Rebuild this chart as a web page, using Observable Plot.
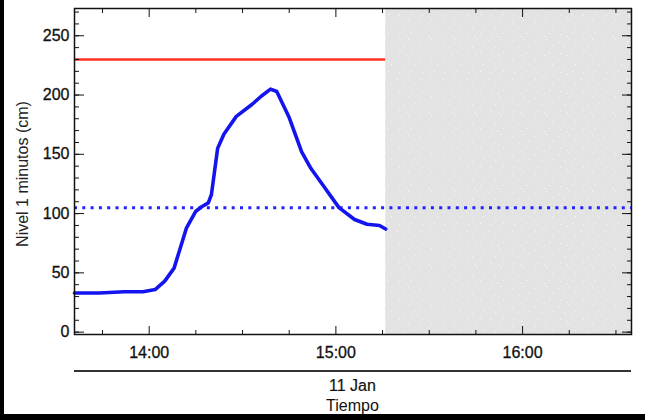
<!DOCTYPE html>
<html><head><meta charset="utf-8">
<script src="https://cdn.jsdelivr.net/npm/d3@7"></script>
<script src="https://cdn.jsdelivr.net/npm/@observablehq/plot@0.6"></script>
<style>
body{margin:0;background:#000;}
#chart{position:absolute;left:4px;top:0;width:641px;height:414px;background:#fff;}
</style></head><body><div id="chart"></div>
<script>
// data
const times = ["13:36","13:44","13:52","13:58","14:02","14:05","14:08","14:10","14:12","14:15","14:17","14:19","14:20","14:22","14:24","14:28","14:33","14:36","14:39","14:41","14:45","14:49","14:52","14:55","15:01","15:06","15:10","15:14","15:16"];
const nivel = [33,33,34,34,36,43,54,71,88,102,106,109,116,155,167,182,192,199,205,203,181,152,138,127,105,95,91,90,87];
const umbralRojo = 230;
const umbralAzul = 105;
const inicioGris = "15:16";
const dominioX = ["13:36","16:35"];
const dominioY = [-2, 273];
const yMajor = [0,50,100,150,200,250];
const yMinor = d3.range(0, 271, 10);
const xMajor = ["14:00","15:00","16:00"];
const xMinor = ["13:45","14:15","14:30","14:45","15:15","15:30","15:45","16:15","16:30"];
const fecha = "11 Jan";
const tituloX = "Tiempo";
const tituloY = "Nivel 1 minutos (cm)";

const parse = s => { const [h,m] = s.split(":").map(Number); return new Date(Date.UTC(2021,0,11,h,m)); };
const data = times.map((t,i) => ({t: parse(t), v: nivel[i]}));
const xd = dominioX.map(parse);
const gris = parse(inicioGris);
const W = 641, H = 414, ML = 70, MR = 14, MT = 8, MB = 80;
const F = "Liberation Sans, Arial, Helvetica, sans-serif";
const blank = () => "";

const chart = Plot.plot({
  width: W, height: H,
  marginLeft: ML, marginRight: MR, marginTop: MT, marginBottom: MB,
  style: {fontFamily: F, fontSize: "16px", color: "#111", background: "transparent"},
  x: {type: "utc", domain: xd, label: null},
  y: {domain: dominioY, label: null},
  marks: [
    Plot.rect([{x1: gris, x2: xd[1]}], {x1: "x1", x2: "x2", y1: dominioY[0], y2: dominioY[1], fill: "#e3e3e3"}),
    Plot.ruleY([umbralRojo], {x1: xd[0], x2: gris, stroke: "#ff3322", strokeWidth: 2.5}),
    Plot.ruleY([umbralAzul], {x1: xd[0], x2: xd[1], stroke: "#2222ff", strokeWidth: 3, strokeDasharray: "3,5.3"}),
    Plot.line(data, {x: "t", y: "v", stroke: "#1414ee", strokeWidth: 3.6, strokeLinejoin: "round"}),
    Plot.axisY(yMinor, {anchor: "left", tickSize: -5, tickFormat: blank, label: null}),
    Plot.axisY(yMinor, {anchor: "right", tickSize: -5, tickFormat: blank, label: null}),
    Plot.axisY(yMajor, {anchor: "left", tickSize: -10, tickPadding: 15, tickFormat: d => String(d), label: null, fontSize: 16}),
    Plot.axisY(yMajor, {anchor: "right", tickSize: -10, tickFormat: blank, label: null}),
    Plot.axisX(xMinor.map(parse), {anchor: "bottom", tickSize: -4, tickFormat: blank, label: null}),
    Plot.axisX(xMinor.map(parse), {anchor: "top", tickSize: -4, tickFormat: blank, label: null}),
    Plot.axisX(xMajor.map(parse), {anchor: "bottom", tickSize: -8, tickPadding: 20, tickFormat: d3.utcFormat("%H:%M"), label: null, fontSize: 16}),
    Plot.axisX(xMajor.map(parse), {anchor: "top", tickSize: -8, tickFormat: blank, label: null}),
    Plot.frame({stroke: "#111", strokeWidth: 1.5})
  ]
});
document.getElementById("chart").appendChild(chart);

const svg = d3.select(chart);
svg.selectAll('g[aria-label="y-axis tick label"], g[aria-label="x-axis tick label"]')
  .attr("stroke", "#111").attr("stroke-width", 0.3);
const defs = svg.insert("defs", ":first-child");
const pat = defs.append("pattern").attr("id", "speck").attr("patternUnits", "userSpaceOnUse")
  .attr("width", 23).attr("height", 19);
pat.append("rect").attr("width", 23).attr("height", 19).attr("fill", "#e3e3e3");
[[2,3],[13,1],[8,9],[19,7],[4,15],[16,14],[11,17]].forEach(([x,y]) =>
  pat.append("rect").attr("x", x).attr("y", y).attr("width", 1).attr("height", 1).attr("fill", "#f8f8f8"));
svg.selectAll('g[fill="#e3e3e3"]').attr("fill", "url(#speck)");

const cx = ML + (W - ML - MR) / 2;
svg.append("line").attr("x1", ML).attr("x2", W - MR).attr("y1", 371).attr("y2", 371)
  .attr("stroke", "#333").attr("stroke-width", 2);
svg.append("text").attr("x", cx).attr("y", 391).attr("text-anchor", "middle")
  .attr("font-family", F).attr("font-size", 16).attr("fill", "#111").attr("stroke", "#111").attr("stroke-width", 0.2).text(fecha);
svg.append("text").attr("x", cx).attr("y", 411).attr("text-anchor", "middle")
  .attr("font-family", F).attr("font-size", 16).attr("fill", "#111").text(tituloX);
svg.append("text").attr("transform", `translate(24,${(MT + H - MB) / 2 + 3})rotate(-90)`)
  .attr("text-anchor", "middle").attr("font-family", F).attr("font-size", 16).attr("fill", "#222").text(tituloY);
</script></body></html>
